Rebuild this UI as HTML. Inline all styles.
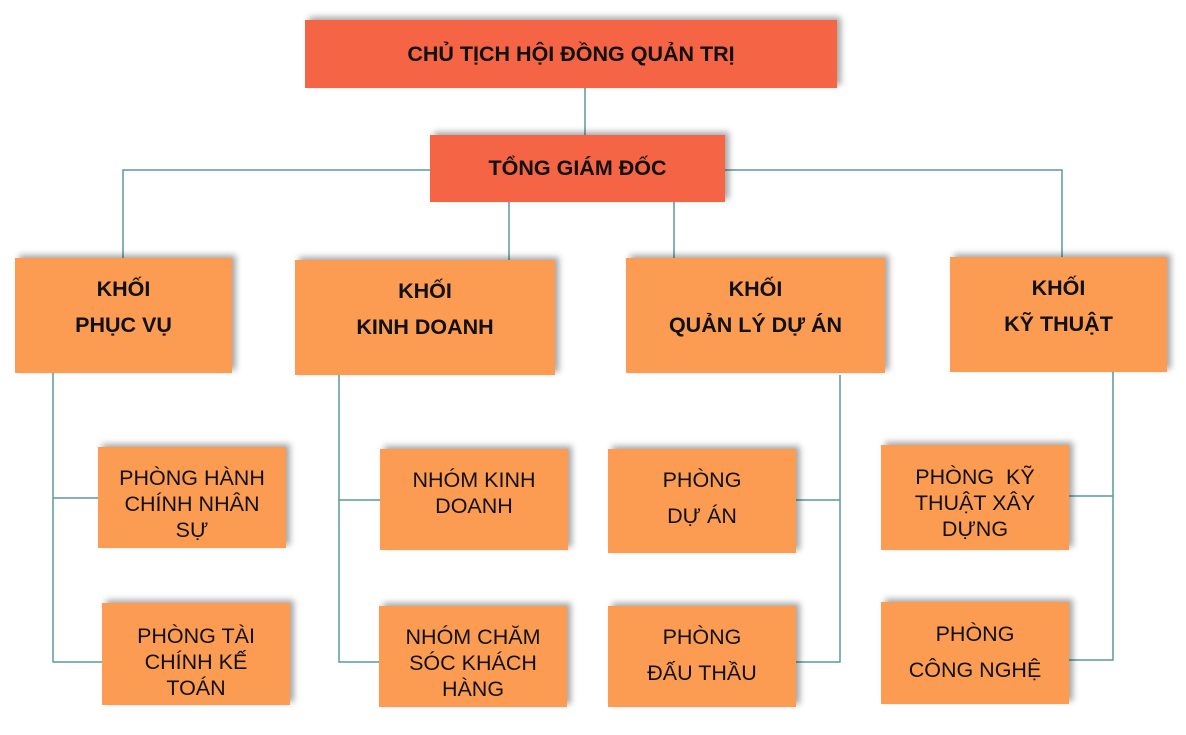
<!DOCTYPE html>
<html><head><meta charset="utf-8"><style>
html,body{margin:0;padding:0;background:#fff;width:1186px;height:735px;overflow:hidden;position:relative;font-family:"Liberation Sans",Arial,sans-serif;}
.b{position:absolute;display:flex;flex-direction:column;align-items:center;justify-content:center;text-align:center;color:#111;box-shadow:4px -3px 6px rgba(0,0,0,0.35);box-sizing:border-box;}
.r{background:#f56445;font-weight:bold;font-size:21.5px;}
.k{background:#fb9c52;font-weight:bold;font-size:21.5px;line-height:36px;justify-content:flex-start;padding-top:13px;}
.s{background:#fb9c52;font-size:21.5px;line-height:26px;justify-content:flex-start;}
svg{position:absolute;left:0;top:0;}
</style></head><body>
<svg width="1186" height="735"><g stroke="#5b9a9c" stroke-width="1.5" fill="none">
<line x1="585" y1="88" x2="585" y2="135"/>
<polyline points="123,258 123,170 1062,170 1062,258"/>
<line x1="509" y1="202" x2="509" y2="260"/>
<line x1="674" y1="202" x2="674" y2="258"/>
<polyline points="53,373 53,662 102,662"/><line x1="53" y1="498" x2="98" y2="498"/>
<polyline points="339,375 339,662 379,662"/><line x1="339" y1="500" x2="380" y2="500"/>
<polyline points="840,375 840,662 796,662"/><line x1="796" y1="500" x2="840" y2="500"/>
<polyline points="1113,372 1113,660 1069,660"/><line x1="1069" y1="496" x2="1113" y2="496"/>
</g></svg>
<div class="b r" style="left:305px;top:20px;width:532px;height:68px;">CHỦ TỊCH HỘI ĐỒNG QUẢN TRỊ</div>
<div class="b r" style="left:430px;top:135px;width:295px;height:67px;">TỔNG GIÁM ĐỐC</div>
<div class="b k" style="left:15px;top:258px;width:217px;height:115px;"><div>KHỐI</div><div>PHỤC VỤ</div></div>
<div class="b k" style="left:295px;top:260px;width:260px;height:115px;"><div>KHỐI</div><div>KINH DOANH</div></div>
<div class="b k" style="left:626px;top:258px;width:259px;height:115px;"><div>KHỐI</div><div>QUẢN LÝ DỰ ÁN</div></div>
<div class="b k" style="left:950px;top:257px;width:217px;height:115px;"><div>KHỐI</div><div>KỸ THUẬT</div></div>
<div class="b s" style="left:98px;top:447px;width:188px;height:101px;padding-top:18px;">PHÒNG HÀNH<br>CHÍNH NHÂN<br>SỰ</div>
<div class="b s" style="left:102px;top:603px;width:188px;height:102px;padding-top:20px;">PHÒNG TÀI<br>CHÍNH KẾ<br>TOÁN</div>
<div class="b s" style="left:380px;top:449px;width:188px;height:101px;padding-top:18px;">NHÓM KINH<br>DOANH</div>
<div class="b s" style="left:379px;top:606px;width:188px;height:101px;padding-top:18px;">NHÓM CHĂM<br>SÓC KHÁCH<br>HÀNG</div>
<div class="b s" style="left:608px;top:449px;width:188px;height:104px;line-height:36px;padding-top:13px;">PHÒNG<br>DỰ ÁN</div>
<div class="b s" style="left:608px;top:606px;width:188px;height:101px;line-height:36px;padding-top:13px;">PHÒNG<br>ĐẤU THẦU</div>
<div class="b s" style="left:881px;top:445px;width:188px;height:105px;padding-top:19px;">PHÒNG&nbsp; KỸ<br>THUẬT XÂY<br>DỰNG</div>
<div class="b s" style="left:881px;top:602px;width:188px;height:102px;line-height:36px;padding-top:14px;">PHÒNG<br>CÔNG NGHỆ</div>
</body></html>
